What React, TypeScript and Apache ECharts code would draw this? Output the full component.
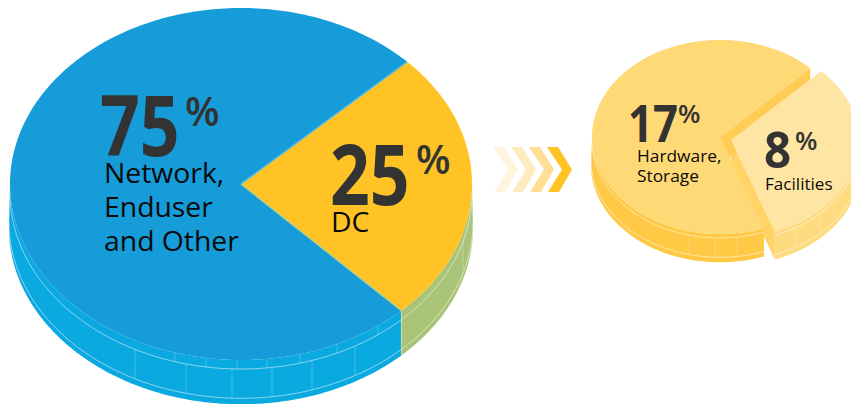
import React, { useEffect, useRef } from "react";
import * as echarts from "echarts";

const mainNames = ["Network, Enduser and Other", "DC"];
const mainValues = [75, 25];
const detailNames = ["Hardware, Storage", "Facilities"];
const detailValues = [17, 8];

const SANS = '"Open Sans", "Noto Sans", sans-serif';

type Pie = { cx: number; cy: number; rx: number; ry: number; depth: number; start: number; lines: number[]; };
const bigPie: Pie = { cx: 241, cy: 184, rx: 231, ry: 176, depth: 44, start: -46, lines: [9, 38] };
const smallPie: Pie = { cx: 720, cy: 137, rx: 128, ry: 97, depth: 28, start: -70, lines: [4, 23] };

const bigTop = ["#169cd8", "#ffc326"];
const bigSide = ["#0aa9e0", "#a9c477"];
const bigEdge = ["#58bde6", "#b7cf86"];
const smallTop = ["#ffd976", "#ffe5a3"];
const smallSide = ["#ffc945", "#ffdb7f"];
const smallFace = ["#ffcd55", "#ffd366"];

function pt(p: Pie, deg: number, dx = 0, dy = 0, grow = 0) {
  const a = (deg * Math.PI) / 180;
  return [p.cx + dx + (p.rx + grow) * Math.cos(a), p.cy + dy - (p.ry + grow * 0.3) * Math.sin(a)];
}
function arc(p: Pie, from: number, to: number, dx = 0, dy = 0, grow = 0) {
  const pts: number[][] = [];
  for (let d = from; d > to; d -= 1) pts.push(pt(p, d, dx, dy, grow));
  pts.push(pt(p, to, dx, dy, grow));
  return pts;
}
function lowerArc(p: Pie, from: number, to: number, dx = 0, dy = 0, grow = 0) {
  const hi = Math.min(from, 0);
  const lo = Math.max(to, -180);
  return arc(p, hi, lo, dx, dy, grow);
}
function slices(values: number[], start: number) {
  const total = values.reduce((a, b) => a + b, 0);
  let cur = start;
  return values.map((v) => {
    if (cur < -180) cur += 360;
    const from = cur;
    cur -= (v / total) * 360;
    return [from, cur];
  });
}
function shapes(
  p: Pie, from: number, to: number, dx: number, dy: number,
  top: string, side: string, z: number, topZ: number, ticks: number[][]
) {
  const out: any[] = [];
  const lowTop = lowerArc(p, from, to, dx, dy);
  const lowBot = lowerArc(p, from, to, dx, dy + p.depth, 1);
  out.push({ type: "polygon", z2: z, shape: { points: [...lowTop, ...lowBot.slice().reverse()] }, style: { fill: side } });
  p.lines.forEach((o) => {
    out.push({ type: "polyline", z2: z + 1, shape: { points: lowerArc(p, from, to, dx, dy + o, o > 20 ? 1 : 0) },
      style: { fill: "none", stroke: "rgba(255,255,255,0.65)", lineWidth: 0.8 } });
  });
  ticks.forEach(([x, o0, o1]) => {
    const t = -Math.acos((x - p.cx - dx) / p.rx);
    const y = p.cy + dy - p.ry * Math.sin(t);
    out.push({ type: "line", z2: z + 1, shape: { x1: x, y1: y + o0, x2: x, y2: y + o1 },
      style: { stroke: "rgba(255,255,255,0.3)", lineWidth: 0.8 } });
  });
  out.push({ type: "polygon", z2: topZ, shape: { points: [[p.cx + dx, p.cy + dy], ...arc(p, from, to, dx, dy)] }, style: { fill: top } });
  return out;
}

const bigTicks = [
  [135, 9, 38], [175, 0, 9], [186, 9, 38], [206, 0, 9], [232, 9, 38], [237, 0, 9], [267, 0, 9],
  [272, 9, 38], [300, 0, 9], [312, 9, 38], [337, 0, 9], [355, 9, 38], [378, 0, 9],
];
const smallTicks = [[689, 4, 23], [715, 4, 23], [737, 4, 23], [704, 0, 4], [722, 0, 4], [740, 0, 4], [753, 0, 4]];
const greenTicks = [[463, 9, 38]];
const facTicks = [[795, 4, 23], [820, 4, 23]];

function renderBig(params: any, api: any) {
  const i = params.dataIndex;
  api.value(0);
  const [from, to] = slices(mainValues, bigPie.start)[i];
  const children = shapes(bigPie, from, to, 0, 0, bigTop[i], bigSide[i], 1, 5, i === 0 ? bigTicks : greenTicks);
  const end = pt(bigPie, i === 0 ? from : to);
  children.push({ type: "line", z2: 6, shape: { x1: end[0], y1: end[1], x2: end[0], y2: end[1] + bigPie.depth },
    style: { stroke: "#cfe0a8", lineWidth: 0.8 } });
  const e = pt(bigPie, to);
  children.push({ type: "line", z2: 7, shape: { x1: bigPie.cx, y1: bigPie.cy, x2: e[0], y2: e[1] },
    style: { stroke: bigEdge[i], lineWidth: 1.5 } });
  return { type: "group", children };
}

function renderSmall(params: any, api: any) {
  const i = params.dataIndex;
  api.value(0);
  const [from, to] = slices(detailValues, smallPie.start)[i];
  if (i === 0) {
    const children = shapes(smallPie, from, to, 0, 0, smallTop[0], smallSide[0], 3, 6, smallTicks);
    const tip = pt(smallPie, to);
    children.push({ type: "polygon", z2: 3, shape: { points: [[smallPie.cx, smallPie.cy], tip, [tip[0], tip[1] + smallPie.depth], [smallPie.cx, smallPie.cy + smallPie.depth]] },
      style: { fill: smallFace[0] } });
    return { type: "group", children };
  }
  const dx = 11, dy = 3;
  const children = shapes(smallPie, from, to, dx, dy, smallTop[1], smallSide[1], 1, 8, facTicks);
  const tip = pt(smallPie, to, dx, dy);
  const ax = smallPie.cx + dx, ay = smallPie.cy + dy;
  children.push({ type: "polygon", z2: 1, shape: { points: [[ax, ay], tip, [tip[0], tip[1] + smallPie.depth], [ax, ay + smallPie.depth]] },
    style: { fill: smallFace[1] } });
  return { type: "group", children };
}

const big = (text: string, x: number, y: number, size: number, scaleX: number, fill: string, weight: any = "bold") => ({
  type: "text", x, y, scaleX, z: 100,
  style: { text, x: 0, y: 0, fill, fontFamily: SANS, fontSize: size, fontWeight: weight, textAlign: "left", textVerticalAlign: "middle", verticalAlign: "middle" },
});

const chevronX = [493, 511, 529, 547];
const chevronFill = ["#fff4dd", "#ffebc0", "#ffdf95", "#ffc326"];

const graphics = [
  big("75", 100, 123, 85, 0.82, "#333333"),
  big("%", 185, 110, 40, 1, "#333333", 600),
  big("Network,", 104, 172, 27, 1.05, "#0a0a0a", 400),
  big("Enduser", 104, 206, 27, 1.05, "#0a0a0a", 400),
  big("and Other", 104, 240, 27, 1.05, "#0a0a0a", 400),
  big("25", 330, 172, 85, 0.82, "#333333"),
  big("%", 416, 158, 40, 1, "#333333", 600),
  big("DC", 331, 221, 27, 1.05, "#0a0a0a", 400),
  big("17", 628, 122, 52, 0.84, "#333333"),
  big("%", 678, 113, 26, 1, "#333333", 600),
  big("Hardware,", 637, 156, 17, 1.02, "#0a0a0a", 400),
  big("Storage", 637, 176, 17, 1.02, "#0a0a0a", 400),
  big("8", 764, 149, 50, 0.95, "#333333"),
  big("%", 795, 140, 26, 1, "#333333", 600),
  big("Facilities", 765, 184, 16, 1.07, "#0a0a0a", 400),
  ...chevronX.map((x, i) => ({
    type: "polygon", z: 100,
    shape: { points: [[x, 147], [x + 11, 147], [x + 25, 169.5], [x + 12, 192], [x + 1, 192], [x + 15, 169.5]] },
    style: { fill: chevronFill[i] },
  })),
];

export default function App() {
  const ref = useRef<HTMLDivElement>(null);
  useEffect(() => {
    const chart = echarts.init(ref.current!, null, { renderer: "svg" });
    chart.setOption({
      animation: false,
      backgroundColor: "#ffffff",
      series: [
        { type: "custom", coordinateSystem: "none", renderItem: renderBig, silent: true,
          data: mainValues.map((value, i) => ({ name: mainNames[i], value })) },
        { type: "custom", coordinateSystem: "none", renderItem: renderSmall, silent: true,
          data: detailValues.map((value, i) => ({ name: detailNames[i], value })) },
      ],
      graphic: graphics,
    });
    return () => chart.dispose();
  }, []);
  return <div ref={ref} style={{ position: "fixed", left: 0, top: 0, width: 851, height: 404 }} />;
}
